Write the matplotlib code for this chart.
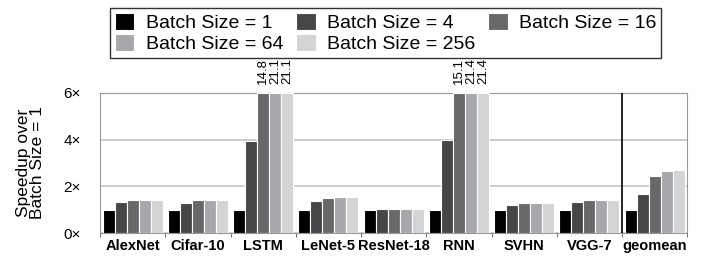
import numpy as np
import matplotlib.pyplot as plt

plt.rcParams['font.family'] = ['Liberation Sans', 'DejaVu Sans']

benchmarks = ['AlexNet', 'Cifar-10', 'LSTM', 'LeNet-5', 'ResNet-18', 'RNN', 'SVHN', 'VGG-7', 'geomean']
batch_labels = ['Batch Size = 1', 'Batch Size = 4', 'Batch Size = 16', 'Batch Size = 64', 'Batch Size = 256']

bs1 = [1.0, 1.0, 1.0, 1.0, 1.0, 1.0, 1.0, 1.0, 1.0]
bs4 = [1.34, 1.30, 3.95, 1.39, 1.04, 3.98, 1.22, 1.34, 1.69]
bs16 = [1.42, 1.42, 14.8, 1.52, 1.04, 15.1, 1.30, 1.42, 2.46]
bs64 = [1.42, 1.42, 21.1, 1.56, 1.04, 21.4, 1.30, 1.42, 2.66]
bs256 = [1.42, 1.42, 21.1, 1.56, 1.04, 21.4, 1.30, 1.42, 2.71]

colors = ['#000000', '#464648', '#68686a', '#a7a8ab', '#d3d4d6']
ymax = 6

fig = plt.figure(figsize=(7.02, 2.61), dpi=100)
ax = fig.add_axes([0.1425, 0.107, 0.8365, 0.537])

series = [bs1, bs4, bs16, bs64, bs256]
x = np.arange(len(benchmarks))
w = 0.92 / 5
handles = []
for i, vals in enumerate(series):
    shown = [min(v, ymax) for v in vals]
    b = ax.bar(x + (i - 2) * w, shown, w, color=colors[i], edgecolor='white',
               linewidth=0.8, label=batch_labels[i], zorder=3)
    handles.append(b)
    # values past the top of the axis get written above it
    for xi, v in zip(x, vals):
        if v > ymax:
            ax.text(xi + (i - 2) * w, ymax + 0.4, '%.1f' % v, rotation=90,
                    ha='center', va='bottom', fontsize=9.5)

ax.set_xlim(-0.5, len(benchmarks) - 0.5)
ax.set_ylim(0, ymax)
ax.set_yticks([0, 2, 4, 6])
ax.set_yticklabels(['0×', '2×', '4×', '6×'], fontsize=11)
ax.tick_params(axis='y', length=0, pad=14)
ax.yaxis.grid(True, color='#c4c4c4', linewidth=1.2, zorder=0)
ax.set_xticks(x)
ax.set_xticklabels(benchmarks, fontsize=10.5, fontweight='bold')
ax.set_xticks(np.arange(-0.5, len(benchmarks)), minor=True)
ax.tick_params(axis='x', which='major', length=0, pad=4)
ax.tick_params(axis='x', which='minor', length=3, color='#555555')
ax.axvline(7.5, color='black', linewidth=1.2, zorder=4)
for s in ax.spines.values():
    s.set_color('#999999')
ax.set_ylabel('Speedup over\nBatch Size = 1', fontsize=12.5, labelpad=13, linespacing=0.95)

# row-major order for the 3-column legend
order = [0, 3, 1, 4, 2]
leg = fig.legend([handles[k] for k in order], [batch_labels[k] for k in order],
                 ncol=3, loc='upper left', bbox_to_anchor=(0.1567, 0.969),
                 fontsize=14, frameon=True, fancybox=False, edgecolor='black',
                 handlelength=1.0, handleheight=0.95, handletextpad=0.6,
                 columnspacing=0.65, labelspacing=0.1, borderpad=0.25, borderaxespad=0)
leg.get_frame().set_linewidth(1.0)

fig.savefig('out.png', dpi=100)
